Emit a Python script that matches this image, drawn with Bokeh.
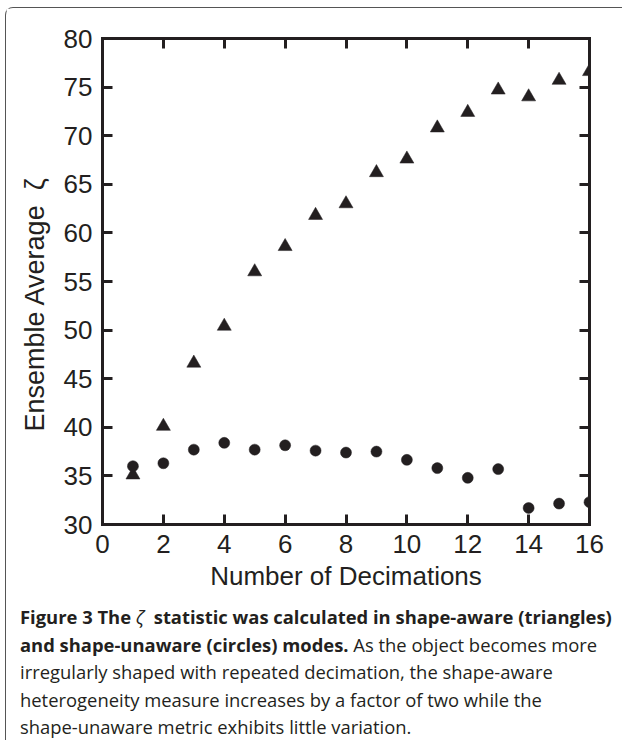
from bokeh.plotting import figure
from bokeh.models import (Range1d, LinearAxis, FixedTicker, CustomJSTickFormatter,
                          Div, ColumnDataSource, Title)
from bokeh.layouts import column
from bokeh.embed import file_html
from bokeh.resources import INLINE

# ---- data ----
decimations = [1, 2, 3, 4, 5, 6, 7, 8, 9, 10, 11, 12, 13, 14, 15, 16]
shape_aware = [35.1, 40.1, 46.6, 50.4, 56.0, 58.6, 61.8, 63.0, 66.2, 67.6,
               70.8, 72.4, 74.7, 74.0, 75.7, 76.6]
shape_unaware = [36.0, 36.3, 37.7, 38.4, 37.7, 38.15, 37.6, 37.4, 37.5, 36.65,
                 35.8, 34.8, 35.7, 31.7, 32.15, 32.3]
x_ticks = [0, 2, 4, 6, 8, 10, 12, 14, 16]
y_ticks = [30, 35, 40, 45, 50, 55, 60, 65, 70, 75, 80]
x_title = "Number of Decimations"
y_title = "Ensemble Average \u00a0ζ"

INK = "#231f20"
FONT = "Liberation Sans"

p = figure(frame_width=487, frame_height=486,
           min_border_left=96, min_border_top=30, min_border_right=30,
           min_border_bottom=74,
           x_range=Range1d(0, 16), y_range=Range1d(30, 80),
           output_backend="svg", toolbar_location=None,
           background_fill_color="white", border_fill_color="white")
p.xgrid.visible = False
p.ygrid.visible = False
p.outline_line_color = None


def style_axis(ax, ticks, show_labels):
    ax.ticker = FixedTicker(ticks=ticks)
    ax.axis_line_width = 3
    ax.axis_line_color = INK
    ax.axis_line_cap = "square"
    ax.major_tick_line_width = 3
    ax.major_tick_line_color = INK
    ax.major_tick_in = 10
    ax.major_tick_out = 0
    ax.minor_tick_line_color = None
    ax.major_label_text_font = FONT
    ax.major_label_text_font_size = "26px"
    ax.major_label_text_color = INK
    ax.axis_label_text_font = FONT
    ax.axis_label_text_font_size = "26px"
    ax.axis_label_text_font_style = "normal"
    ax.axis_label_text_color = INK
    if not show_labels:
        ax.formatter = CustomJSTickFormatter(code="return ''")


xa = p.xaxis[0]
style_axis(xa, x_ticks, True)
xa.axis_label = x_title
xa.major_label_standoff = 10
xa.axis_label_standoff = 5

ya = p.yaxis[0]
style_axis(ya, y_ticks, True)
ya.major_label_standoff = 10

top = LinearAxis()
style_axis(top, x_ticks, False)
p.add_layout(top, "above")
right = LinearAxis()
style_axis(right, y_ticks, False)
p.add_layout(right, "right")

# y-axis title as a left-side title (aligned from the bottom of the frame)
ytitle = Title(text=y_title, align="left", offset=93, standoff=21,
               text_font=FONT, text_font_size="27px", text_font_style="normal",
               text_color=INK)
p.add_layout(ytitle, "left")

src = ColumnDataSource(dict(x=decimations, aware=shape_aware, unaware=shape_unaware))
p.scatter("x", "aware", source=src, marker="triangle", size=14,
          fill_color=INK, line_color=INK, line_width=0.5)
p.scatter("x", "unaware", source=src, marker="circle", size=11,
          fill_color=INK, line_color=INK, line_width=0.5)

caption_html = (
    "<div style=\"font-family:'Open Sans'; font-size:18.4px; line-height:27.5px; "
    "color:#231f20; white-space:nowrap; padding-left:9px;\">"
    "<b>Figure 3 The <span style='font-weight:normal;font-style:italic'>ζ</span>&nbsp; "
    "statistic was calculated in shape-aware (triangles)<br>"
    "and shape-unaware (circles) modes.</b> As the object becomes more<br>"
    "irregularly shaped with repeated decimation, the shape-aware<br>"
    "heterogeneity measure increases by a factor of two while the<br>"
    "shape-unaware metric exhibits little variation.</div>"
)
cap = Div(text=caption_html, width=610, height=135)

layout = column(p, cap, spacing=0,
                styles={"border-left": "1.5px solid #555",
                        "border-top": "1.5px solid #555",
                        "border-top-left-radius": "8px",
                        "margin-left": "5px",
                        "margin-top": "7px",
                        "background-color": "white"})

open("out.html", "w").write(file_html(layout, INLINE))
